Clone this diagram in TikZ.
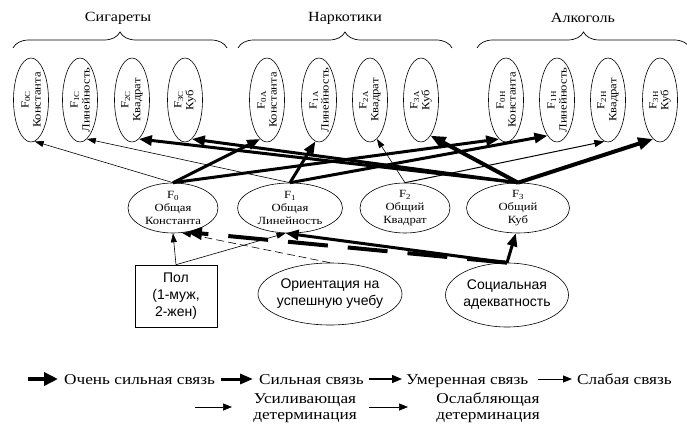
\documentclass[tikz,border=0pt]{standalone}
\usepackage{fontspec}
\setmainfont{Liberation Serif}
\setsansfont{Liberation Sans}
\newfontfamily\wserif[FakeStretch=1.15]{Liberation Serif}
\usetikzlibrary{shapes.geometric,arrows.meta,decorations.pathreplacing}
\begin{document}
\begin{tikzpicture}[x=1pt,y=-1pt,
  vell/.style={ellipse,draw,line width=0.6pt,minimum width=35pt,minimum height=84pt,inner sep=0pt},
  hell/.style={ellipse,draw,line width=0.6pt,minimum height=50pt,inner sep=0pt},
  bell/.style={ellipse,draw,line width=0.6pt,inner sep=0pt},
  vtxt/.style={rotate=90,align=center,inner sep=0pt,font=\wserif\fontsize{11}{12}\selectfont},
  htxt/.style={align=center,inner sep=0pt,font=\wserif\fontsize{11}{13}\selectfont},
  stxt/.style={align=center,inner sep=0pt,font=\sffamily\fontsize{14}{17}\selectfont},
  grp/.style={inner sep=0pt,font=\wserif\fontsize{14}{16}\selectfont},
  legt/.style={anchor=base west,inner sep=0pt,font=\wserif\fontsize{15}{16}\selectfont},
  legt2/.style={align=center,inner sep=0pt,font=\wserif\fontsize{15}{16}\selectfont},
  brc/.style={line width=0.7pt,decorate,decoration={brace,amplitude=16pt}},
  vstrong/.style={line width=4pt,-{Triangle[length=15pt,width=12pt]}},
  strong/.style={line width=3pt,-{Triangle[length=13pt,width=10pt]}},
  moderate/.style={line width=1pt,-{Triangle[length=10pt,width=7pt]}},
  weak/.style={line width=0.6pt,-{Triangle[length=9pt,width=6pt]}}
]
\useasboundingbox (0,0) rectangle (687,425);

% group labels and braces
\node[grp] (gC) at (118,18) {Сигареты};
\node[grp] (gA) at (345,18) {Наркотики};
\node[grp] (gH) at (583,18) {Алкоголь};
\coordinate (bC1) at (13,48); \coordinate (bC2) at (227,48);
\coordinate (bA1) at (238,48); \coordinate (bA2) at (452,48);
\coordinate (bH1) at (477,48); \coordinate (bH2) at (690,48);
\draw[brc] (bC1) -- (bC2);
\draw[brc] (bA1) -- (bA2);
\draw[brc] (bH1) -- (bH2);

% top ellipses
\node[vell] (c0) at (31,100) {};  \node[vtxt] (c0t) at (c0) {F\textsubscript{0C}\\Константа};
\node[vell] (c1) at (80,100) {};  \node[vtxt] (c1t) at (c1) {F\textsubscript{1C}\\Линейность};
\node[vell] (c2) at (132,100) {}; \node[vtxt] (c2t) at (c2) {F\textsubscript{2C}\\Квадрат};
\node[vell] (c3) at (185,100) {}; \node[vtxt] (c3t) at (c3) {F\textsubscript{3C}\\Куб};
\node[vell] (a0) at (267,100) {}; \node[vtxt] (a0t) at (a0) {F\textsubscript{0A}\\Константа};
\node[vell] (a1) at (319,100) {}; \node[vtxt] (a1t) at (a1) {F\textsubscript{1A}\\Линейность};
\node[vell] (a2) at (370,100) {}; \node[vtxt] (a2t) at (a2) {F\textsubscript{2A}\\Квадрат};
\node[vell] (a3) at (421,100) {}; \node[vtxt] (a3t) at (a3) {F\textsubscript{3A}\\Куб};
\node[vell] (h0) at (506,100) {}; \node[vtxt] (h0t) at (h0) {F\textsubscript{0H}\\Константа};
\node[vell] (h1) at (557,100) {}; \node[vtxt] (h1t) at (h1) {F\textsubscript{1H}\\Линейность};
\node[vell] (h2) at (608,100) {}; \node[vtxt] (h2t) at (h2) {F\textsubscript{2H}\\Квадрат};
\node[vell] (h3) at (660,100) {}; \node[vtxt] (h3t) at (h3) {F\textsubscript{3H}\\Куб};

% middle ellipses
\node[hell,minimum width=90pt] (f0) at (173,208) {};  \node[htxt] (f0t) at (f0) {F\textsubscript{0}\\Общая\\Константа};
\node[hell,minimum width=105pt] (f1) at (290,208) {}; \node[htxt] (f1t) at (f1) {F\textsubscript{1}\\Общая\\Линейность};
\node[hell,minimum width=90pt] (f2) at (405,208) {};  \node[htxt] (f2t) at (f2) {F\textsubscript{2}\\Общий\\Квадрат};
\node[hell,minimum width=103pt] (f3) at (518,208) {}; \node[htxt] (f3t) at (f3) {F\textsubscript{3}\\Общий\\Куб};

% bottom nodes
\node[draw,line width=0.6pt,minimum width=82pt,minimum height=62pt,inner sep=0pt] (pol) at (176,296) {};
\node[stxt] (polt) at (pol) {Пол\\(1-муж,\\2-жен)};
\node[bell,minimum width=144pt,minimum height=62pt] (orient) at (330,294) {};
\node[stxt] (orientt) at (orient) {Ориентация на\\успешную учебу};
\node[bell,minimum width=123pt,minimum height=64pt] (soc) at (507,295) {};
\node[stxt] (soct) at (soc) {Социальная\\адекватность};

% connectors top
\draw[weak] (f0.north) -- (c0.-85);
\draw[weak] (f1.north) -- (c1.-80);
\draw[strong] (f3.north) -- (c2.-80);
\draw[strong] (f3.north) -- (c3.-80);
\draw[strong] (f0.north) -- (a0.-100);
\draw[strong] (f1.north) -- (a1.-95);
\draw[weak] (f2.north) -- (a2.-80);
\draw[vstrong] (f3.north) -- (a3.-75);
\draw[strong] (f0.north) -- (h0.-100);
\draw[strong] (f1.north) -- (h1.-105);
\draw[moderate] (f2.north) -- (h2.-95);
\draw[vstrong] (f3.north) -- (h3.-100);

% connectors bottom
\draw[weak] (pol.north) -- (f0.south);
\draw[weak] (pol.north) -- (f1.-100);
\draw[weak,dash pattern=on 8pt off 4pt] (orient.north) -- (f0.-70);
\draw[vstrong,dash pattern=on 40pt off 20pt] (soc.north) -- (f0.-60);
\draw[strong] (soc.north) -- (f1.-100);
\draw[strong] (soc.north) -- (f3.-95);

% legend row 1
\coordinate (l1a) at (28,379);  \coordinate (l1b) at (58,379);
\coordinate (l2a) at (221,379); \coordinate (l2b) at (253,379);
\coordinate (l3a) at (369,379); \coordinate (l3b) at (402,379);
\coordinate (l4a) at (538,379); \coordinate (l4b) at (572,379);
\draw[line width=4.5pt,-{Triangle[length=14pt,width=13pt]}] (l1a) -- (l1b);
\draw[line width=3pt,-{Triangle[length=13pt,width=10pt]}] (l2a) -- (l2b);
\draw[line width=1.3pt,-{Triangle[length=10pt,width=8pt]}] (l3a) -- (l3b);
\draw[line width=0.9pt,-{Triangle[length=9pt,width=7pt]}] (l4a) -- (l4b);
\node[legt] (lt1) at (64,384) {Очень сильная связь};
\node[legt] (lt2) at (259,384) {Сильная связь};
\node[legt] (lt3) at (406,384) {Умеренная связь};
\node[legt] (lt4) at (577,384) {Слабая связь};

% legend row 2
\coordinate (l5a) at (195,407); \coordinate (l5b) at (232,407);
\coordinate (l6a) at (369,407); \coordinate (l6b) at (408,407);
\draw[line width=0.7pt,-{Triangle[length=9pt,width=7pt]}] (l5a) -- (l5b);
\draw[line width=0.7pt,-{Triangle[length=9pt,width=7pt]}] (l6a) -- (l6b);
\node[legt2] (lt5) at (305,408) {Усиливающая\\детерминация};
\node[legt2] (lt6) at (488,408) {Ослабляющая\\детерминация};
\end{tikzpicture}
\end{document}
